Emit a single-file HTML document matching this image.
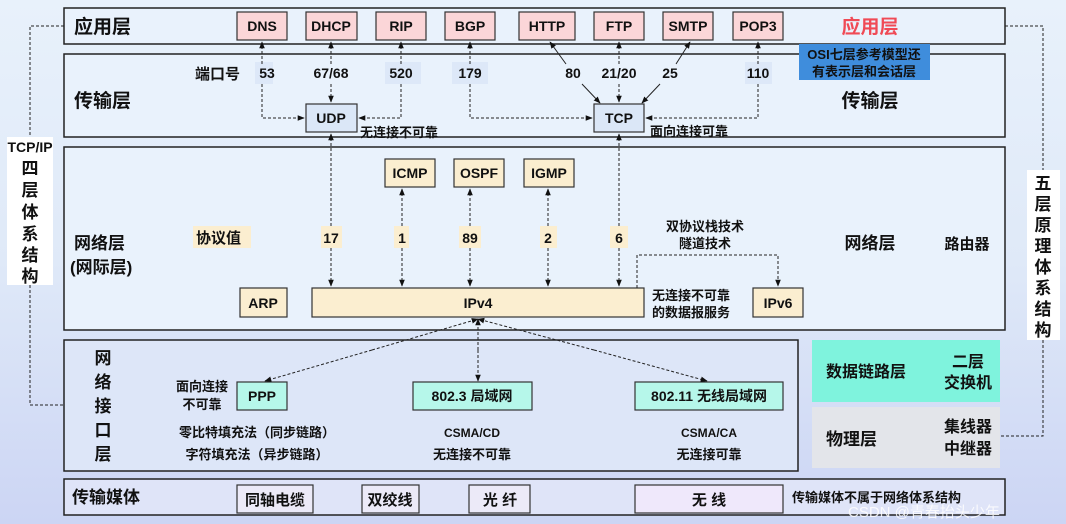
<!DOCTYPE html>
<html><head><meta charset="utf-8"><style>
html,body{margin:0;padding:0;}
body{width:1066px;height:524px;overflow:hidden;background:linear-gradient(180deg,#e8f1fb 0%,#dfe9f8 50%,#ccd5f4 100%);}
svg{display:block}
text{font-family:"Liberation Sans","Noto Sans CJK SC",sans-serif;font-weight:bold;fill:#111;}
</style></head><body>
<svg width="1066" height="524" viewBox="0 0 1066 524" xmlns="http://www.w3.org/2000/svg">
<defs>
<marker id="a" viewBox="0 0 10 10" refX="9" refY="5" markerWidth="7" markerHeight="7" orient="auto-start-reverse"><path d="M0,1 L10,5 L0,9 z" fill="#111"/></marker>
</defs>
<g fill="#e9f2fc" stroke="#222" stroke-width="1.5">
<rect x="64" y="8" width="941" height="36"/>
<rect x="64" y="54" width="941" height="83"/>
<rect x="64" y="147" width="941" height="183"/>
<rect x="64" y="340" width="734" height="131" fill="#dde6f8"/>
<rect x="64" y="479" width="941" height="36" fill="#dfe4f8"/>
</g>
<!-- side labels -->
<rect x="7" y="137" width="46" height="148" fill="#fff"/>
<rect x="1027" y="170" width="33" height="170" fill="#fff"/>
<g fill="none" stroke="#222" stroke-width="1" stroke-dasharray="3,2">
<path d="M64,26 H30 V137 M30,285 V405 H64"/>
<path d="M1005,26 H1043 V170 M1043,340 V436 H1000"/>
</g>
<text x="30" y="152" font-size="14" text-anchor="middle">TCP/IP</text>
<g font-size="17" text-anchor="middle">
<text x="30" y="174">四</text><text x="30" y="196">层</text><text x="30" y="218">体</text><text x="30" y="240">系</text><text x="30" y="261">结</text><text x="30" y="282">构</text>
</g>
<g font-size="17" text-anchor="middle">
<text x="1043" y="189">五</text><text x="1043" y="210">层</text><text x="1043" y="231">原</text><text x="1043" y="252">理</text><text x="1043" y="273">体</text><text x="1043" y="294">系</text><text x="1043" y="315">结</text><text x="1043" y="336">构</text>
</g>
<!-- app layer -->
<text x="74" y="33" font-size="19">应用层</text>
<g fill="#fbd6d8" stroke="#333" stroke-width="1.2">
<rect x="237" y="12" width="50" height="28"/><rect x="306" y="12" width="51" height="28"/><rect x="376" y="12" width="50" height="28"/><rect x="445" y="12" width="50" height="28"/>
<rect x="519" y="12" width="56" height="28"/><rect x="594" y="12" width="50" height="28"/><rect x="663" y="12" width="50" height="28"/><rect x="733" y="12" width="50" height="28"/>
</g>
<g font-size="14" text-anchor="middle">
<text x="262" y="31">DNS</text><text x="331" y="31">DHCP</text><text x="401" y="31">RIP</text><text x="470" y="31">BGP</text>
<text x="547" y="31">HTTP</text><text x="619" y="31">FTP</text><text x="688" y="31">SMTP</text><text x="758" y="31">POP3</text>
</g>
<text x="870" y="33" font-size="19" text-anchor="middle" style="fill:#f04a55">应用层</text>
<rect x="799" y="44" width="131" height="36" fill="#3f8ddc"/>
<text x="864" y="59" font-size="13" text-anchor="middle">OSI七层参考模型还</text>
<text x="864" y="76" font-size="13" text-anchor="middle">有表示层和会话层</text>
<!-- transport -->
<text x="74" y="107" font-size="19">传输层</text>
<text x="870" y="107" font-size="19" text-anchor="middle">传输层</text>
<text x="195" y="79" font-size="15">端口号</text>
<g fill="#dde8f8"><rect x="255" y="62" width="18" height="22"/><rect x="385" y="62" width="36" height="22"/><rect x="452" y="62" width="36" height="22"/><rect x="745" y="62" width="27" height="22"/></g>
<g font-size="14" text-anchor="middle">
<text x="267" y="78">53</text><text x="331" y="78">67/68</text><text x="401" y="78">520</text><text x="470" y="78">179</text>
<text x="573" y="78">80</text><text x="619" y="78">21/20</text><text x="670" y="78">25</text><text x="758" y="78">110</text>
</g>
<g fill="#dbe7f7" stroke="#333" stroke-width="1.2"><rect x="306" y="104" width="51" height="28"/><rect x="594" y="104" width="50" height="28"/></g>
<g font-size="14" text-anchor="middle"><text x="331" y="123">UDP</text><text x="619" y="123">TCP</text></g>
<text x="360" y="137" font-size="13">无连接不可靠</text>
<text x="650" y="136" font-size="13">面向连接可靠</text>
<g fill="none" stroke="#222" stroke-width="1" stroke-dasharray="3,2">
<path d="M262,64 V42" marker-end="url(#a)"/><path d="M262,84 V118 H304" marker-end="url(#a)"/>
<path d="M331,64 V42" marker-end="url(#a)"/><path d="M331,84 V102" marker-end="url(#a)"/>
<path d="M401,64 V42" marker-end="url(#a)"/><path d="M401,84 V118 H359" marker-end="url(#a)"/>
<path d="M470,64 V42" marker-end="url(#a)"/><path d="M470,84 V118 H592" marker-end="url(#a)"/>
<path d="M619,64 V42" marker-end="url(#a)"/><path d="M619,84 V102" marker-end="url(#a)"/>
<path d="M758,64 V42" marker-end="url(#a)"/><path d="M758,84 V118 H646" marker-end="url(#a)"/>
</g>
<g fill="none" stroke="#222" stroke-width="1">
<path d="M566,64 L550,42" marker-end="url(#a)"/><path d="M582,84 L600,103" marker-end="url(#a)"/>
<path d="M676,64 L690,42" marker-end="url(#a)"/><path d="M660,84 L642,103" marker-end="url(#a)"/>
</g>
<!-- network -->
<text x="74" y="249" font-size="17">网络层</text>
<text x="70" y="273" font-size="17">(网际层)</text>
<rect x="193" y="226" width="58" height="22" fill="#fbeed0"/>
<text x="196" y="243" font-size="15">协议值</text>
<g fill="#fbeed0" stroke="#333" stroke-width="1.2">
<rect x="385" y="159" width="50" height="28"/><rect x="454" y="159" width="50" height="28"/><rect x="524" y="159" width="50" height="28"/>
<rect x="240" y="288" width="47" height="29"/><rect x="312" y="288" width="332" height="29"/><rect x="753" y="288" width="50" height="29"/>
</g>
<g font-size="14" text-anchor="middle">
<text x="410" y="178">ICMP</text><text x="479" y="178">OSPF</text><text x="549" y="178">IGMP</text>
<text x="263" y="308">ARP</text><text x="478" y="308">IPv4</text><text x="778" y="308">IPv6</text>
</g>
<g fill="#fbeed0"><rect x="321" y="226" width="21" height="22"/><rect x="394" y="226" width="15" height="22"/><rect x="459" y="226" width="22" height="22"/><rect x="540" y="226" width="17" height="22"/><rect x="610" y="226" width="18" height="22"/></g>
<g font-size="14" text-anchor="middle"><text x="331" y="243">17</text><text x="402" y="243">1</text><text x="470" y="243">89</text><text x="548" y="243">2</text><text x="619" y="243">6</text></g>
<g fill="none" stroke="#222" stroke-width="1" stroke-dasharray="3,2">
<path d="M331,226 V134" marker-end="url(#a)"/><path d="M331,248 V286" marker-end="url(#a)"/>
<path d="M402,226 V189" marker-end="url(#a)"/><path d="M402,248 V286" marker-end="url(#a)"/>
<path d="M470,226 V189" marker-end="url(#a)"/><path d="M470,248 V286" marker-end="url(#a)"/>
<path d="M548,226 V189" marker-end="url(#a)"/><path d="M548,248 V286" marker-end="url(#a)"/>
<path d="M619,226 V134" marker-end="url(#a)"/><path d="M619,248 V286" marker-end="url(#a)"/>
<path d="M637,288 V255 H778 V286" marker-end="url(#a)"/>
</g>
<text x="705" y="231" font-size="13" text-anchor="middle">双协议栈技术</text>
<text x="705" y="248" font-size="13" text-anchor="middle">隧道技术</text>
<text x="652" y="300" font-size="13">无连接不可靠</text>
<text x="652" y="317" font-size="13">的数据报服务</text>
<text x="870" y="249" font-size="17" text-anchor="middle">网络层</text>
<text x="967" y="249" font-size="15" text-anchor="middle">路由器</text>
<!-- interface -->
<g font-size="17" text-anchor="middle"><text x="103" y="364">网</text><text x="103" y="388">络</text><text x="103" y="412">接</text><text x="103" y="436">口</text><text x="103" y="460">层</text></g>
<g fill="#b6f7ea" stroke="#333" stroke-width="1.2">
<rect x="237" y="382" width="50" height="28"/><rect x="413" y="382" width="119" height="28"/><rect x="635" y="382" width="148" height="28"/>
</g>
<g font-size="14" text-anchor="middle"><text x="262" y="401">PPP</text><text x="472" y="401">802.3 局域网</text><text x="709" y="401">802.11 无线局域网</text></g>
<text x="202" y="391" font-size="13" text-anchor="middle">面向连接</text>
<text x="202" y="409" font-size="13" text-anchor="middle">不可靠</text>
<text x="257" y="437" font-size="13" text-anchor="middle">零比特填充法（同步链路）</text>
<text x="257" y="459" font-size="13" text-anchor="middle">字符填充法（异步链路）</text>
<text x="472" y="437" font-size="12" text-anchor="middle">CSMA/CD</text>
<text x="472" y="459" font-size="13" text-anchor="middle">无连接不可靠</text>
<text x="709" y="437" font-size="12" text-anchor="middle">CSMA/CA</text>
<text x="709" y="459" font-size="13" text-anchor="middle">无连接可靠</text>
<g fill="none" stroke="#222" stroke-width="1" stroke-dasharray="3,2">
<path d="M372,350 L478,319" marker-end="url(#a)"/><path d="M372,350 L265,381" marker-end="url(#a)"/>
<path d="M478,350 V319" marker-end="url(#a)"/><path d="M478,350 V381" marker-end="url(#a)"/>
<path d="M594,350 L478,319" marker-end="url(#a)"/><path d="M594,350 L707,381" marker-end="url(#a)"/>
</g>
<rect x="812" y="340" width="188" height="62" fill="#7ff3dd"/>
<rect x="812" y="407" width="188" height="61" fill="#e3e5ea"/>
<text x="826" y="377" font-size="16">数据链路层</text>
<text x="968" y="367" font-size="16" text-anchor="middle">二层</text>
<text x="968" y="388" font-size="16" text-anchor="middle">交换机</text>
<text x="826" y="445" font-size="17">物理层</text>
<text x="968" y="432" font-size="16" text-anchor="middle">集线器</text>
<text x="968" y="454" font-size="16" text-anchor="middle">中继器</text>
<!-- media -->
<text x="72" y="503" font-size="17">传输媒体</text>
<g fill="#eceaf8" stroke="#333" stroke-width="1.2">
<rect x="237" y="485" width="76" height="28"/><rect x="362" y="485" width="57" height="28"/><rect x="469" y="485" width="61" height="28"/><rect x="635" y="485" width="148" height="28" fill="#efe8fb"/>
</g>
<g font-size="15" text-anchor="middle"><text x="275" y="505">同轴电缆</text><text x="390" y="505">双绞线</text><text x="500" y="505">光 纤</text><text x="709" y="505">无 线</text></g>
<text x="792" y="502" font-size="13">传输媒体不属于网络体系结构</text>
<text x="848" y="517" font-size="15" style="fill:#fff;font-weight:normal;opacity:0.85">CSDN @青春抬头少年</text>
</svg>
</body></html>
